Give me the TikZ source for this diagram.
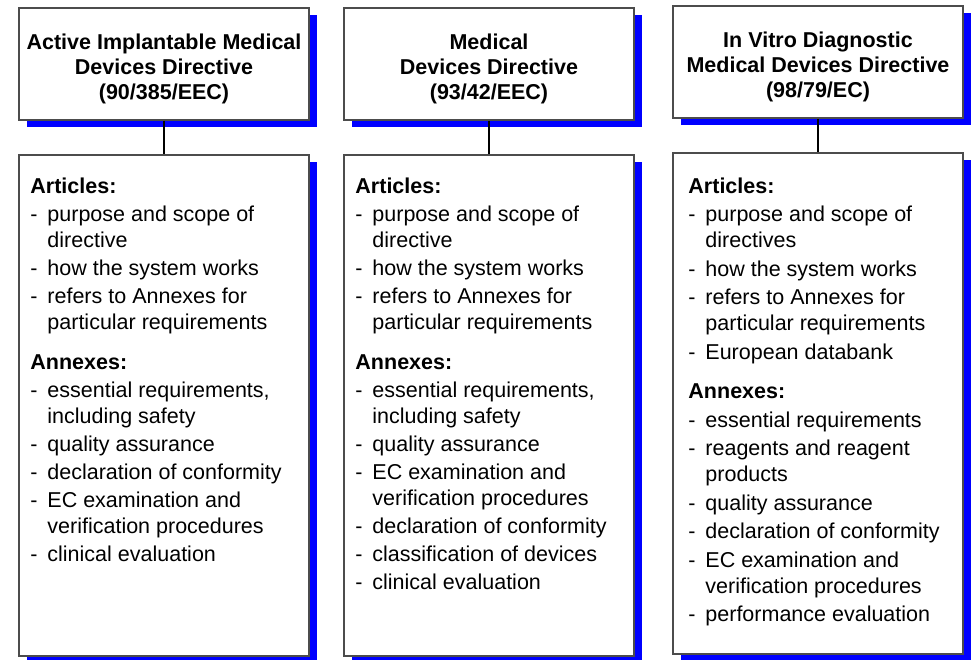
\documentclass[tikz,border=0pt]{standalone}
\usepackage{fontspec}
\setmainfont{Liberation Sans}
\usetikzlibrary{shadows}
\tikzstyle{head}    = [rectangle, minimum width=290pt, minimum height=112pt, align=center, draw=black!70, line width=1.5pt, fill=white, drop shadow={opacity=1, fill=blue, shadow xshift=8pt, shadow yshift=-7.5pt}, font=\fontsize{21.5pt}{25pt}\selectfont\bfseries]
\tikzstyle{body}    = [rectangle, minimum width=290pt, minimum height=501pt, draw=black!70, line width=1.5pt, fill=white, drop shadow={opacity=1, fill=blue, shadow xshift=8pt, shadow yshift=-7.5pt}]
\tikzstyle{listtxt} = [anchor=north west, inner sep=0pt, align=left, font=\fontsize{21.5pt}{26pt}\selectfont]
\tikzstyle{link}    = [line width=1.5pt]
\newcommand{\tstrut}{\rule{0pt}{24.5pt}}
\newcommand{\ditem}[1]{\makebox[17pt][l]{-}#1}
\newcommand{\dcont}[1]{\hspace*{17pt}#1}

\begin{document}
\begin{tikzpicture}[node distance=325pt]
    \useasboundingbox (0,0) rectangle (977pt,-660pt);
    \node (T1) [head] at (164pt,-64pt)          {\tstrut Active Implantable Medical\\Devices Directive\\(90/385/EEC)};
    \node (T2) [head, right of=T1]              {\tstrut Medical\\Devices Directive\\(93/42/EEC)};
    \node (T3) [head, right of=T2, xshift=4pt, yshift=2pt] {\tstrut In Vitro Diagnostic\\Medical Devices Directive\\(98/79/EC)};
    \node (B1) [body, below of=T1, yshift=-16.5pt] {};
    \node (B2) [body, below of=T2, yshift=-16.5pt] {};
    \node (B3) [body, below of=T3, yshift=-16.5pt] {};

    \draw [link] (T1) -- (B1);
    \draw [link] (T2) -- (B2);
    \draw [link] (T3) -- (B3);

    \node (L1) [listtxt] at ([xshift=12pt, yshift=-23.5pt]B1.north west) {%
      \textbf{Articles:}\\[2pt]
      \ditem{purpose and scope of}\\
      \dcont{directive}\\[2pt]
      \ditem{how the system works}\\[2pt]
      \ditem{refers to Annexes for}\\
      \dcont{particular requirements}\\[14pt]
      \textbf{Annexes:}\\[2pt]
      \ditem{essential requirements,}\\
      \dcont{including safety}\\[2pt]
      \ditem{quality assurance}\\[2pt]
      \ditem{declaration of conformity}\\[2pt]
      \ditem{EC examination and}\\
      \dcont{verification procedures}\\[2pt]
      \ditem{clinical evaluation}};
    \node (L2) [listtxt] at ([xshift=12pt, yshift=-23.5pt]B2.north west) {%
      \textbf{Articles:}\\[2pt]
      \ditem{purpose and scope of}\\
      \dcont{directive}\\[2pt]
      \ditem{how the system works}\\[2pt]
      \ditem{refers to Annexes for}\\
      \dcont{particular requirements}\\[14pt]
      \textbf{Annexes:}\\[2pt]
      \ditem{essential requirements,}\\
      \dcont{including safety}\\[2pt]
      \ditem{quality assurance}\\[2pt]
      \ditem{EC examination and}\\
      \dcont{verification procedures}\\[2pt]
      \ditem{declaration of conformity}\\[2pt]
      \ditem{classification of devices}\\[2pt]
      \ditem{clinical evaluation}};
    \node (L3) [listtxt] at ([xshift=16pt, yshift=-25.5pt]B3.north west) {%
      \textbf{Articles:}\\[2pt]
      \ditem{purpose and scope of}\\
      \dcont{directives}\\[2.5pt]
      \ditem{how the system works}\\[2.5pt]
      \ditem{refers to Annexes for}\\
      \dcont{particular requirements}\\[2.5pt]
      \ditem{European databank}\\[13pt]
      \textbf{Annexes:}\\[3pt]
      \ditem{essential requirements}\\[2.5pt]
      \ditem{reagents and reagent}\\
      \dcont{products}\\[2.5pt]
      \ditem{quality assurance}\\[2.5pt]
      \ditem{declaration of conformity}\\[2.5pt]
      \ditem{EC examination and}\\
      \dcont{verification procedures}\\[2.5pt]
      \ditem{performance evaluation}};
\end{tikzpicture}
\end{document}
